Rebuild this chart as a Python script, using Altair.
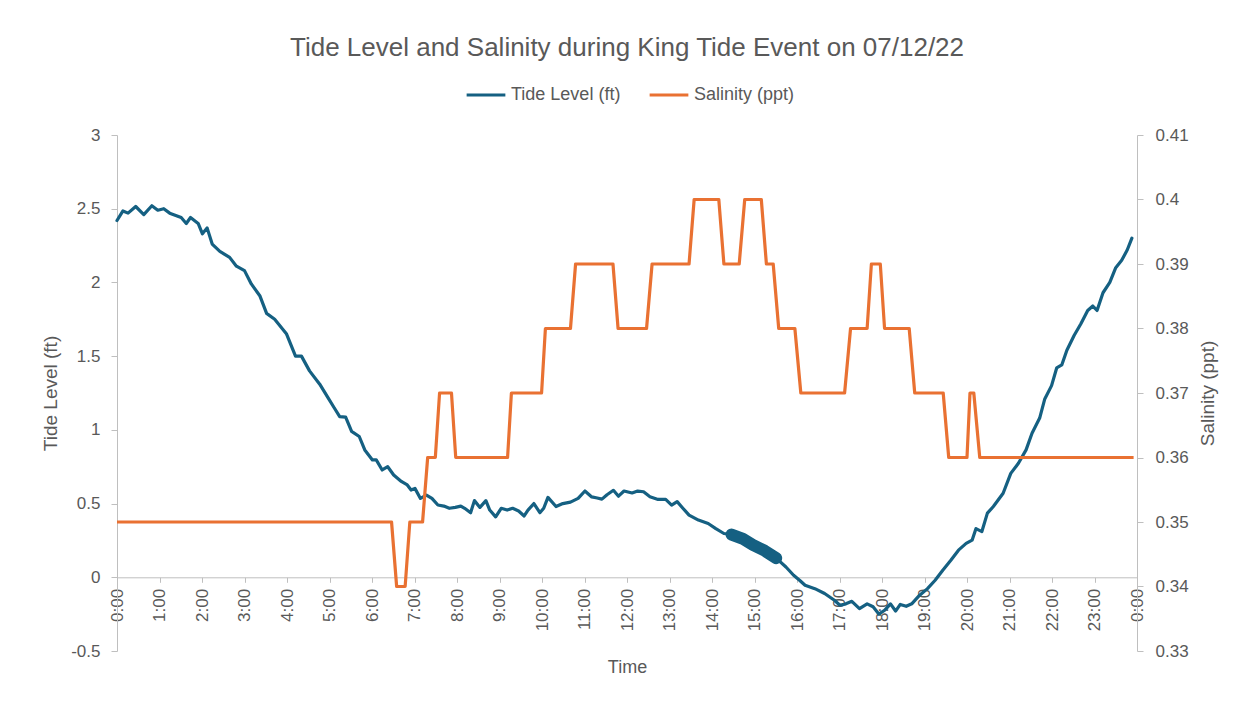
import altair as alt
import pandas as pd

# ---- data ----
tide_hours = [0.0, 0.14, 0.26, 0.44, 0.63, 0.82, 0.96, 1.1, 1.24, 1.51, 1.63, 1.73, 1.91, 2.01, 2.12,
              2.24, 2.42, 2.65, 2.81, 3.0, 3.16, 3.36, 3.52, 3.71, 3.99, 4.2, 4.34, 4.53, 4.77, 4.96,
              5.11, 5.24, 5.38, 5.52, 5.7, 5.83, 6.01, 6.1, 6.24, 6.37, 6.51, 6.69, 6.83, 6.92, 7.01,
              7.14, 7.28, 7.41, 7.55, 7.69, 7.82, 7.96, 8.09, 8.18, 8.32, 8.41, 8.54, 8.68, 8.77, 8.91,
              9.04, 9.18, 9.31, 9.45, 9.58, 9.67, 9.81, 9.95, 10.04, 10.14, 10.33, 10.49, 10.67, 10.85,
              11.01, 11.17, 11.3, 11.41, 11.53, 11.68, 11.8, 11.93, 12.12, 12.25, 12.39, 12.54, 12.73,
              12.91, 13.05, 13.18, 13.32, 13.46, 13.68, 13.91, 14.09, 14.28, 14.46, 14.73, 14.96, 15.24,
              15.51, 15.74, 15.92, 16.06, 16.19, 16.42, 16.65, 16.88, 17.01, 17.15, 17.29, 17.47, 17.65,
              17.79, 17.93, 18.06, 18.2, 18.32, 18.43, 18.57, 18.7, 18.88, 19.07, 19.25, 19.43, 19.62,
              19.8, 19.98, 20.12, 20.21, 20.35, 20.48, 20.62, 20.85, 21.03, 21.21, 21.39, 21.53, 21.71,
              21.83, 21.99, 22.11, 22.23, 22.35, 22.52, 22.68, 22.84, 22.96, 23.06, 23.2, 23.36, 23.5,
              23.64, 23.77, 23.88]
tide_ft = [2.42, 2.485, 2.47, 2.515, 2.46, 2.52, 2.49, 2.50, 2.47, 2.44, 2.40, 2.44, 2.40, 2.33, 2.37,
           2.26, 2.21, 2.17, 2.11, 2.08, 1.99, 1.91, 1.79, 1.75, 1.65, 1.50, 1.50, 1.40, 1.31, 1.22,
           1.15, 1.09, 1.086, 0.99, 0.955, 0.864, 0.796, 0.796, 0.728, 0.75, 0.694, 0.65, 0.626, 0.592, 0.603,
           0.535, 0.558, 0.535, 0.49, 0.483, 0.468, 0.474, 0.483, 0.468, 0.438, 0.52, 0.474, 0.52, 0.456, 0.41,
           0.468, 0.456, 0.468, 0.45, 0.416, 0.456, 0.50, 0.438, 0.468, 0.542, 0.48, 0.50, 0.51, 0.535,
           0.585, 0.545, 0.538, 0.53, 0.56, 0.59, 0.55, 0.585, 0.572, 0.585, 0.58, 0.546, 0.528,
           0.528, 0.49, 0.513, 0.467, 0.422, 0.388, 0.365, 0.33, 0.297, 0.29, 0.26, 0.22, 0.18,
           0.13, 0.07, 0.014, -0.02, -0.054, -0.077, -0.11, -0.156, -0.19, -0.18, -0.163, -0.213, -0.18,
           -0.2, -0.25, -0.224, -0.18, -0.229, -0.184, -0.197, -0.18, -0.123, -0.077, -0.02, 0.048, 0.116,
           0.184, 0.23, 0.252, 0.33, 0.31, 0.435, 0.48, 0.57, 0.705, 0.773, 0.864, 0.977, 1.08,
           1.21, 1.30, 1.42, 1.44, 1.54, 1.64, 1.72, 1.81, 1.84, 1.81, 1.93, 2.00, 2.10,
           2.15, 2.22, 2.30]

sal_hours = [0.0, 6.46, 6.58, 6.78, 6.89, 7.19, 7.31, 7.49, 7.59, 7.87, 7.97, 9.19, 9.28, 9.99, 10.08,
             10.67, 10.79, 11.67, 11.79, 12.46, 12.59, 13.46, 13.58, 14.16, 14.28, 14.64, 14.77, 15.16,
             15.28, 15.44, 15.57, 15.95, 16.09, 17.12, 17.26, 17.65, 17.75, 17.96, 18.06, 18.64, 18.77,
             19.44, 19.57, 20.0, 20.07, 20.16, 20.3, 23.92]
sal_ppt = [0.35, 0.35, 0.34, 0.34, 0.35, 0.35, 0.36, 0.36, 0.37, 0.37, 0.36, 0.36, 0.37, 0.37, 0.38,
           0.38, 0.39, 0.39, 0.38, 0.38, 0.39, 0.39, 0.40, 0.40, 0.39, 0.39, 0.40, 0.40,
           0.39, 0.39, 0.38, 0.38, 0.37, 0.37, 0.38, 0.38, 0.39, 0.39, 0.38, 0.38, 0.37,
           0.37, 0.36, 0.36, 0.37, 0.37, 0.36, 0.36]

x_ticks = list(range(25))
left_ticks = [-0.5, 0, 0.5, 1, 1.5, 2, 2.5, 3]
right_ticks = [0.33, 0.34, 0.35, 0.36, 0.37, 0.38, 0.39, 0.40, 0.41]
series_names = ["Tide Level (ft)", "Salinity (ppt)"]
series_colors = ["#156082", "#E97132"]
thick_window = [14.35, 15.55]   # stretch where the tide trace is drawn heavier

title_text = "Tide Level and Salinity during King Tide Event on 07/12/22"

# ---- chart ----
tide_df = pd.DataFrame({"hour": tide_hours, "tide": tide_ft, "series": series_names[0]})
sal_df = pd.DataFrame({"hour": sal_hours, "sal": sal_ppt, "series": series_names[1]})

TXT = "#595959"
AX = "#BFBFBF"
FONT = "Liberation Sans"

color_scale = alt.Scale(domain=series_names, range=series_colors)
legend = alt.Legend(title=None, orient="none", direction="horizontal",
                    legendX=348, legendY=-61, symbolType="stroke",
                    symbolStrokeWidth=3, symbolSize=1500, labelFontSize=18,
                    labelFont=FONT, labelColor=TXT, columnPadding=22,
                    labelOffset=4)

x_enc = alt.X(
    "hour:Q",
    scale=alt.Scale(domain=[0, 24], nice=False, zero=False),
    axis=alt.Axis(
        values=x_ticks,
        labelExpr="(datum.value % 24) + ':00'",
        labelAngle=270,
        offset=-73.7,
        title="Time",
        titlePadding=28,
        grid=False,
        domainColor=AX,
        tickColor=AX,
        tickSize=5,
        labelFontSize=17,
        titleFontSize=18,
        labelPadding=6,
    ),
)

y_left = alt.Y(
    "tide:Q",
    scale=alt.Scale(domain=[-0.5, 3], nice=False, zero=False),
    axis=alt.Axis(
        values=left_ticks,
        labelExpr="datum.value < 0 ? '-' + (-datum.value) : '' + datum.value",
        title="Tide Level (ft)",
        orient="left",
        grid=False,
        domainColor=AX,
        tickColor=AX,
        tickSize=6,
        labelFontSize=17,
        titleFontSize=19,
        labelPadding=11,
        titlePadding=10,
    ),
)

tide_line = alt.Chart(tide_df).mark_line(strokeWidth=3.2, strokeJoin="round", strokeCap="round").encode(
    x=x_enc, y=y_left,
    color=alt.Color("series:N", scale=color_scale, legend=legend),
)

tide_thick = alt.Chart(tide_df).transform_filter(
    (alt.datum.hour >= thick_window[0]) & (alt.datum.hour <= thick_window[1])
).mark_line(strokeWidth=12, strokeJoin="round", strokeCap="round", color=series_colors[0]).encode(
    x=x_enc, y="tide:Q",
)

tide_layer = alt.layer(tide_line, tide_thick)

sal_line = alt.Chart(sal_df).mark_line(strokeWidth=3.2, strokeJoin="round").encode(
    x=x_enc,
    y=alt.Y(
        "sal:Q",
        scale=alt.Scale(domain=[0.33, 0.41], nice=False, zero=False),
        axis=alt.Axis(
            values=right_ticks,
            format=".2~f",
            title="Salinity (ppt)",
            orient="right",
            grid=False,
            domainColor=AX,
            tickColor=AX,
            tickSize=6,
            labelFontSize=17,
            titleFontSize=19,
            titleAngle=270,
            labelPadding=12,
            titlePadding=29,
        ),
    ),
    color=alt.Color("series:N", scale=color_scale, legend=legend),
)

chart = alt.layer(tide_layer, sal_line).resolve_scale(y="independent").properties(
    width=1020,
    height=516,
    autosize=alt.AutoSizeParams(type="none"),
    padding={"left": 109, "top": 127, "right": 100, "bottom": 47},
    title=alt.TitleParams(title_text, anchor="middle", fontSize=26, font=FONT,
                          fontWeight="normal", color=TXT, offset=13),
).configure_view(stroke=None).configure_axis(
    labelColor=TXT, titleColor=TXT, labelFont=FONT, titleFont=FONT, titleFontWeight="normal",
)

chart.save("out.html", embed_options={"renderer": "svg", "actions": False})
